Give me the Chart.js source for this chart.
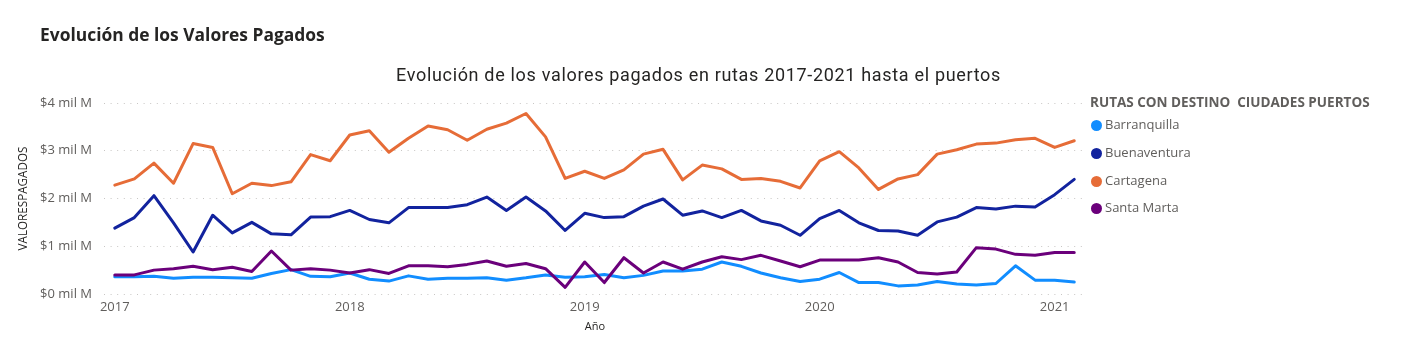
<!DOCTYPE html>
<html>
<head>
<meta charset="utf-8">
<script src="https://cdn.jsdelivr.net/npm/chart.js@4.4.1/dist/chart.umd.min.js"></script>
<style>
  html, body { margin: 0; padding: 0; background: #ffffff; }
  #wrap { position: relative; width: 1421px; height: 346px; overflow: hidden; }
  #chartBox { position: absolute; left: 0; top: 0; width: 1421px; height: 346px; }
  #heading { position: absolute; left: 40px; top: 22px; font-family: "Open Sans", sans-serif; font-weight: 700; font-size: 16px; color: #252423; white-space: nowrap; }
  #ctitle { position: absolute; left: 396px; top: 64px; font-family: Roboto, sans-serif; font-size: 18px; color: #252423; white-space: nowrap; }
  #legend { position: absolute; left: 1090px; top: 93px; font-family: "Open Sans", sans-serif; color: #605E5C; }
  #legend .lt { font-weight: 700; font-size: 12px; white-space: pre; height: 18px; line-height: 18px; }
  #legend .it { position: relative; height: 27.8px; line-height: 27.8px; font-size: 13px; padding-left: 15px; white-space: nowrap; }
  #legend .dot { position: absolute; left: 1px; top: 9px; width: 11px; height: 11px; border-radius: 50%; }
</style>
</head>
<body>
<div id="wrap">
  <div id="chartBox"><canvas id="c"></canvas></div>
  <div id="heading">Evolución de los Valores Pagados</div>
  <div id="ctitle">Evolución de los valores pagados en rutas 2017-2021 hasta el puertos</div>
  <div id="legend"></div>
</div>
<script>
// ---- Data (values in "mil M") ----
const months = [
  "2017-01","2017-02","2017-03","2017-04","2017-05","2017-06","2017-07","2017-08","2017-09","2017-10","2017-11","2017-12",
  "2018-01","2018-02","2018-03","2018-04","2018-05","2018-06","2018-07","2018-08","2018-09","2018-10","2018-11","2018-12",
  "2019-01","2019-02","2019-03","2019-04","2019-05","2019-06","2019-07","2019-08","2019-09","2019-10","2019-11","2019-12",
  "2020-01","2020-02","2020-03","2020-04","2020-05","2020-06","2020-07","2020-08","2020-09","2020-10","2020-11","2020-12",
  "2021-01","2021-02"
];
const yearTicks = ["2017","2018","2019","2020","2021"];
const yearTickMonths = ["2017-01","2018-01","2019-01","2020-01","2021-01"];
const yTicks = [0, 1, 2, 3, 4];

const seriesNames = ["Barranquilla", "Buenaventura", "Cartagena", "Santa Marta"];
const seriesColors = ["#118DFF", "#12239E", "#E66C37", "#6B007B"];

const barranquilla = [
  0.36,0.36,0.37,0.33,0.35,0.35,0.34,0.33,0.43,0.51,0.37,0.36,
  0.44,0.31,0.27,0.38,0.31,0.33,0.33,0.34,0.29,0.34,0.40,0.35,
  0.36,0.41,0.34,0.39,0.48,0.48,0.52,0.67,0.58,0.44,0.34,0.26,
  0.31,0.45,0.24,0.24,0.17,0.19,0.26,0.21,0.19,0.22,0.59,0.29,
  0.29,0.25
];
const buenaventura = [
  1.38,1.60,2.06,1.49,0.88,1.65,1.28,1.50,1.26,1.24,1.61,1.62,
  1.75,1.56,1.49,1.81,1.81,1.81,1.87,2.03,1.75,2.03,1.74,1.33,
  1.69,1.60,1.62,1.84,1.99,1.65,1.74,1.60,1.75,1.53,1.44,1.23,
  1.58,1.75,1.49,1.33,1.32,1.23,1.51,1.61,1.81,1.78,1.84,1.82,
  2.08,2.40
];
const cartagena = [
  2.28,2.41,2.74,2.32,3.15,3.07,2.10,2.32,2.27,2.35,2.92,2.79,
  3.33,3.42,2.97,3.26,3.52,3.44,3.22,3.45,3.58,3.78,3.29,2.42,
  2.57,2.42,2.60,2.93,3.03,2.39,2.70,2.62,2.40,2.42,2.36,2.22,
  2.79,2.98,2.64,2.19,2.41,2.50,2.93,3.02,3.14,3.16,3.23,3.26,
  3.07,3.21
];
const santaMarta = [
  0.40,0.40,0.50,0.53,0.58,0.51,0.56,0.47,0.90,0.50,0.53,0.50,
  0.44,0.51,0.43,0.59,0.59,0.57,0.62,0.69,0.58,0.64,0.53,0.14,
  0.67,0.24,0.76,0.44,0.67,0.52,0.67,0.78,0.72,0.81,0.69,0.57,
  0.71,0.71,0.71,0.76,0.67,0.45,0.42,0.46,0.97,0.94,0.83,0.81,
  0.87,0.87
];
const seriesValues = [barranquilla, buenaventura, cartagena, santaMarta];

// ---- Titles / legend (text) ----
function fitSpacing(el, target) {
  const n = el.textContent.length;
  const w = el.getBoundingClientRect().width;
  el.style.letterSpacing = ((target - w) / n) + 'px';
}
function fitSize(el, target, base) {
  const w = el.getBoundingClientRect().width;
  el.style.fontSize = (base * target / w) + 'px';
}
fitSpacing(document.getElementById('ctitle'), 605);
fitSize(document.getElementById('heading'), 285, 16);

const legendEl = document.getElementById('legend');
legendEl.innerHTML = '<div class="lt"><span id="lttext">RUTAS CON DESTINO  CIUDADES PUERTOS</span></div>' +
  seriesNames.map((n, i) => '<div class="it"><span class="dot" style="background:' + seriesColors[i] + '"></span>' + n + '</div>').join('');
fitSize(document.getElementById('lttext'), 280, 12);

// ---- Chart ----
const tickIdx = yearTickMonths.map(m => months.indexOf(m));
const datasets = seriesNames.map((name, i) => ({
  label: name,
  data: seriesValues[i].map((v, k) => ({ x: k, y: v })),
  borderColor: seriesColors[i],
  backgroundColor: seriesColors[i],
  borderWidth: 3,
  pointRadius: 0,
  pointHoverRadius: 0,
  tension: 0,
  borderJoinStyle: 'round',
  borderCapStyle: 'round',
  order: seriesNames.length - i
}));

new Chart(document.getElementById('c'), {
  type: 'line',
  data: { datasets },
  options: {
    responsive: true,
    maintainAspectRatio: false,
    animation: false,
    events: [],
    layout: { padding: { left: 0, right: 335, top: 103, bottom: 0 } },
    plugins: { legend: { display: false }, title: { display: false }, tooltip: { enabled: false } },
    scales: {
      x: {
        type: 'linear',
        min: -0.55,
        max: 49.6,
        afterFit: s => { s.height = 52; },
        afterBuildTicks: s => { s.ticks = tickIdx.map(v => ({ value: v })); },
        grid: { display: false, drawTicks: false },
        border: { display: false },
        ticks: {
          autoSkip: false,
          maxRotation: 0,
          padding: 5,
          color: '#605E5C',
          font: { family: '"Open Sans", sans-serif', size: 13 },
          callback: v => yearTicks[tickIdx.indexOf(v)] ?? ''
        },
        title: {
          display: true,
          text: 'Año',
          color: '#252423',
          font: { family: '"Open Sans", sans-serif', size: 11 },
          padding: { top: 0, bottom: 13 }
        }
      },
      y: {
        min: 0,
        max: 4,
        afterFit: s => { s.width = 104; },
        afterBuildTicks: s => { s.ticks = yTicks.map(v => ({ value: v })); },
        grid: { color: '#C8C6C4', lineWidth: 1, drawTicks: false },
        border: { display: false, dash: [1, 5.6] },
        ticks: {
          padding: 12,
          color: '#605E5C',
          font: { family: '"Open Sans", sans-serif', size: 13 },
          callback: v => '$' + v + ' mil M'
        },
        title: {
          display: true,
          text: 'VALORESPAGADOS',
          color: '#252423',
          font: { family: '"Open Sans", sans-serif', size: 11.7 },
          padding: { top: 17, bottom: 0 }
        }
      }
    }
  }
});
</script>
</body>
</html>
